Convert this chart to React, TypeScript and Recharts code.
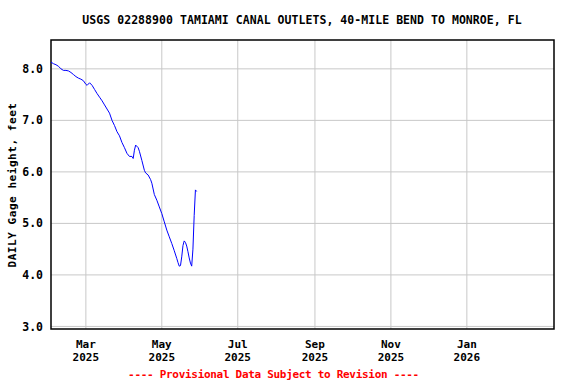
import { LineChart, Line, XAxis, YAxis, CartesianGrid, ReferenceArea } from "recharts";

document.body.style.margin = "0";

// days counted from Feb 1 2025
const days = [
  0, 2, 4, 6, 8, 10, 12, 14, 16, 18, 20, 22, 24, 26, 28, 29, 31, 33, 35, 37,
  39, 41, 43, 45, 47, 49, 51, 53, 55, 57, 59, 61, 63, 65, 66, 67, 68, 70, 71, 73,
  75, 76, 78, 80, 81, 83, 85, 87, 89, 91, 93, 95, 97, 99, 101, 102, 103, 104, 105, 106,
  107, 108, 109, 110, 111, 112, 113, 114, 115, 116, 117,
];
const gageHeight = [
  8.13, 8.10, 8.08, 8.05, 8.00, 7.97, 7.97, 7.96, 7.93, 7.89, 7.85, 7.82, 7.80, 7.77, 7.70, 7.68, 7.73, 7.68, 7.60, 7.52,
  7.45, 7.38, 7.30, 7.22, 7.14, 7.00, 6.90, 6.78, 6.70, 6.57, 6.47, 6.36, 6.30, 6.30, 6.26, 6.42, 6.52, 6.47, 6.40, 6.22,
  6.03, 5.98, 5.94, 5.85, 5.78, 5.56, 5.45, 5.32, 5.19, 5.03, 4.87, 4.74, 4.61, 4.47, 4.32, 4.24, 4.17, 4.18, 4.35, 4.57,
  4.66, 4.63, 4.56, 4.45, 4.33, 4.23, 4.17, 4.50, 5.15, 5.65, 5.62,
];

const monthTicks = [28, 89, 150, 212, 273, 334];
const monthLabels = ["Mar", "May", "Jul", "Sep", "Nov", "Jan"];
const yearLabels = ["2025", "2025", "2025", "2025", "2025", "2026"];
const yTicks = [3, 4, 5, 6, 7, 8];

const X_MIN = 0;
const X_MAX = 404;
const Y_MIN = 2.95;
const Y_MAX = 8.56;

const data = days.map((d, i) => ({ day: d, value: gageHeight[i] }));

const FONT = "'DejaVu Sans Mono', monospace";

const MonthTick = ({ x, y, payload }: any) => {
  const i = monthTicks.indexOf(payload.value);
  return (
    <text x={x} y={y} textAnchor="middle" fontFamily={FONT} fontWeight="bold" fontSize={11} fill="#000">
      <tspan x={x} y={y + 11}>{monthLabels[i]}</tspan>
      <tspan x={x} y={y + 24}>{yearLabels[i]}</tspan>
    </text>
  );
};

const App = () => {
  return (
    <div style={{ position: "relative", width: 576, height: 384, background: "#fff" }}>
      <LineChart width={576} height={384} data={data} margin={{ top: 40, right: 22, left: 0, bottom: 0 }}>
        <CartesianGrid stroke="#c8c8c8" strokeWidth={1} horizontalValues={yTicks} verticalValues={monthTicks} />
        <XAxis
          dataKey="day"
          type="number"
          domain={[X_MIN, X_MAX]}
          ticks={monthTicks}
          tick={<MonthTick />}
          tickLine={false}
          axisLine={false}
          height={55}
          interval={0}
        />
        <YAxis
          type="number"
          domain={[Y_MIN, Y_MAX]}
          ticks={yTicks}
          tickFormatter={(v: number) => v.toFixed(1)}
          tick={{ fontFamily: FONT, fontWeight: "bold", fontSize: 11.5, fill: "#000" }}
          tickLine={false}
          axisLine={false}
          width={51}
          tickMargin={2}
          interval={0}
        />
        <ReferenceArea x1={X_MIN} x2={X_MAX} y1={Y_MIN} y2={Y_MAX} fill="none" stroke="#000" strokeWidth={1.5} ifOverflow="visible" />
        <Line
          type="linear"
          dataKey="value"
          stroke="#0000ff"
          strokeWidth={1}
          dot={false}
          isAnimationActive={false}
        />
      </LineChart>
      <div
        style={{
          position: "absolute", left: 0, width: 604, top: 13, textAlign: "center",
          fontFamily: FONT, fontWeight: "bold", fontSize: 11.5, letterSpacing: 0.05, whiteSpace: "nowrap",
        }}
      >
        USGS 02288900 TAMIAMI CANAL OUTLETS, 40-MILE BEND TO MONROE, FL
      </div>
      <div
        style={{
          position: "absolute", left: 12, top: 185, transform: "translate(-50%, -50%) rotate(-90deg)",
          fontFamily: FONT, fontWeight: "bold", fontSize: 11, letterSpacing: 0.55, whiteSpace: "nowrap",
        }}
      >
        DAILY Gage height, feet
      </div>
      <div
        style={{
          position: "absolute", left: 0, width: 547, top: 368, textAlign: "center", color: "#ff0000",
          fontFamily: FONT, fontWeight: "bold", fontSize: 11, letterSpacing: -0.3, whiteSpace: "nowrap",
        }}
      >
        ---- Provisional Data Subject to Revision ----
      </div>
    </div>
  );
};

export default App;
